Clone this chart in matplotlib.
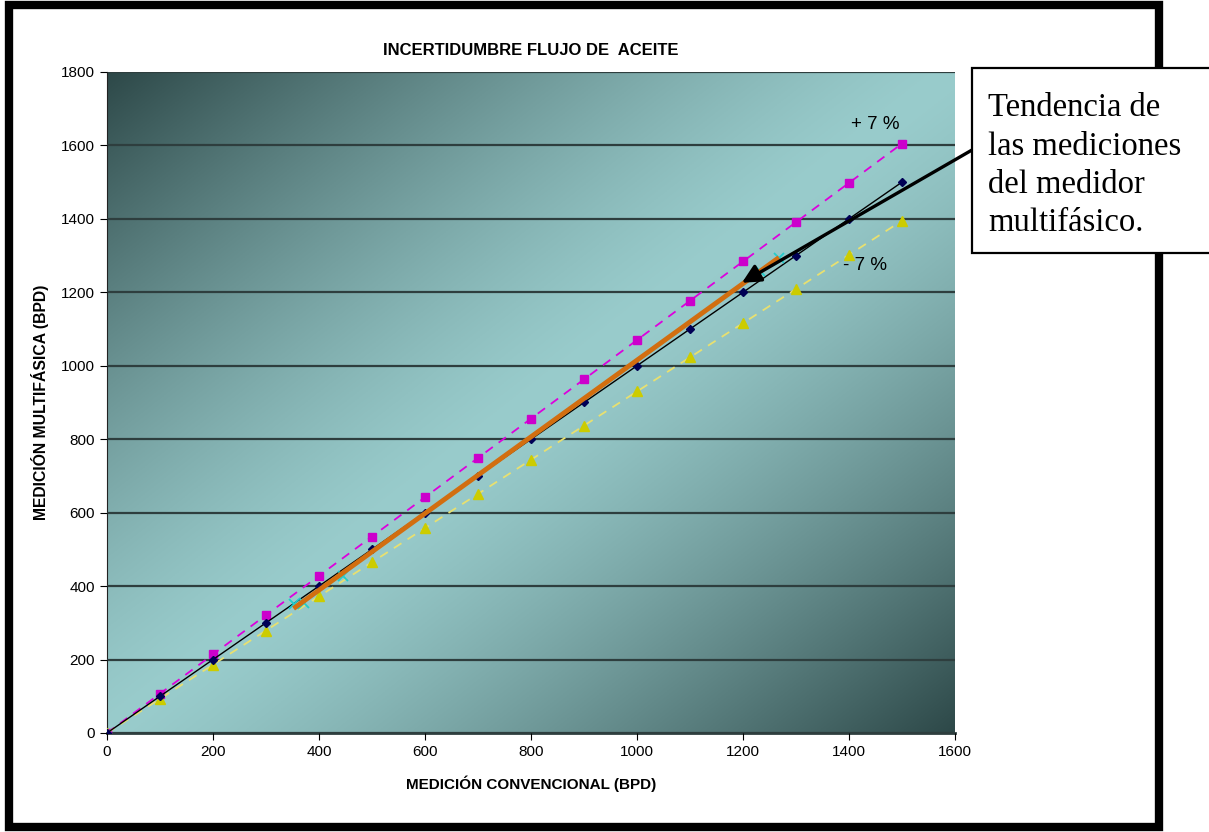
import numpy as np
import matplotlib.pyplot as plt
from matplotlib.patches import Rectangle

plt.rcParams['font.family'] = ['Liberation Sans', 'DejaVu Sans']

# medición convencional (BPD)
conv = [0, 100, 200, 300, 400, 500, 600, 700, 800, 900, 1000, 1100, 1200, 1300, 1400, 1500]
# medición multifásica ideal y bandas de +/- 7 %
ideal = [0, 100, 200, 300, 400, 500, 600, 700, 800, 900, 1000, 1100, 1200, 1300, 1400, 1500]
mas7 = [0, 107, 214, 321, 428, 535, 642, 749, 856, 963, 1070, 1177, 1284, 1391, 1498, 1605]
menos7 = [0, 93, 186, 279, 372, 465, 558, 651, 744, 837, 930, 1023, 1116, 1209, 1302, 1395]

# mediciones del medidor multifásico
med_x = [352, 372, 445, 1232, 1268]
med_y = [352, 354, 428, 1259, 1294]

fig = plt.figure(figsize=(12.09, 8.32), dpi=100)
ax = fig.add_axes([0.0885, 0.119, 0.7014, 0.7945])

# fondo degradado diagonal oscuro-claro-oscuro
u, v = np.meshgrid(np.linspace(0, 1, 400), np.linspace(1, 0, 400))
t = np.abs(u + (1 - v) - 1)
f = t ** 1.35
claro = np.array([153, 204, 204]) / 255
oscuro = np.array([45, 72, 72]) / 255
grad = claro[None, None, :] * (1 - f[..., None]) + oscuro[None, None, :] * f[..., None]
ax.imshow(grad, extent=[0, 1, 0, 1], transform=ax.transAxes, aspect='auto', zorder=0)

ax.set_xlim(0, 1600)
ax.set_ylim(0, 1800)
ax.set_xticks(range(0, 1601, 200))
ax.set_yticks(range(0, 1801, 200))
ax.yaxis.grid(True, color='#2e3e3e', lw=1.6, zorder=1)
ax.set_axisbelow(False)
ax.tick_params(direction='out', length=5, labelsize=11, color='black')
for s in ['top', 'right']:
    ax.spines[s].set_visible(False)
ax.spines['left'].set_color('#222222')
ax.spines['bottom'].set_color('#2e3e3e')
ax.spines['bottom'].set_linewidth(2)

ax.plot(conv, mas7, ls=(0, (5, 4)), color='#dd00dd', lw=1.3, marker='s', ms=6,
        mfc='#cc00cc', mec='#cc00cc', zorder=3)
ax.plot(conv, menos7, ls=(0, (5, 4)), color='#e8e070', lw=1.3, marker='^', ms=7,
        mfc='#cccc00', mec='#cccc00', zorder=3)
ax.plot(conv, ideal, color='black', lw=1, marker='D', ms=4.5,
        mfc='#000055', mec='#000055', zorder=4)
ax.plot(med_x, med_y, ls='none', marker='x', ms=7, mew=1.3, color='#22cccc', zorder=4)

# línea de tendencia
m, b = np.polyfit(med_x, med_y, 1)
xt = np.array([min(med_x), max(med_x)])
ax.plot(xt, m * xt + b, color='#d26e10', lw=3.5, solid_capstyle='butt', zorder=5)

ax.text(1449, 1657, '+ 7 %', fontsize=13.5, ha='center', va='center', zorder=6)
ax.text(1430, 1272, '- 7 %', fontsize=13.5, ha='center', va='center', zorder=6)

ax.set_title('INCERTIDUMBRE FLUJO DE  ACEITE', fontsize=12, fontweight='bold', pad=12)
ax.set_xlabel('MEDICIÓN CONVENCIONAL (BPD)', fontsize=11, fontweight='bold', labelpad=12)
ax.set_ylabel('MEDICIÓN MULTIFÁSICA (BPD)', fontsize=11.3, fontweight='bold', labelpad=9)

# marco exterior
fig.add_artist(Rectangle((0.0075, 0.0055), 0.9515, 0.988, transform=fig.transFigure,
                         fill=False, ec='black', lw=6, zorder=10))

# cuadro de texto con flecha
fig.add_artist(Rectangle((972 / 1209, 1 - 253 / 832), 0.25, 185 / 832, transform=fig.transFigure,
                         fc='white', ec='black', lw=1.6, zorder=11))
fig.text(988 / 1209, 1 - 93 / 832,
         'Tendencia de\nlas mediciones\ndel medidor\nmultifásico.',
         family=['Liberation Serif', 'DejaVu Serif'], fontsize=23.5, linespacing=1.33,
         ha='left', va='top', zorder=12)
ax.annotate('', xy=(1198, 1226), xycoords='data',
            xytext=(972 / 1209, 1 - 150 / 832), textcoords='figure fraction',
            arrowprops=dict(arrowstyle='-|>', lw=2.4, color='black', mutation_scale=28,
                            shrinkA=0, shrinkB=0),
            annotation_clip=False, zorder=9)

fig.savefig('out.png', dpi=100)
